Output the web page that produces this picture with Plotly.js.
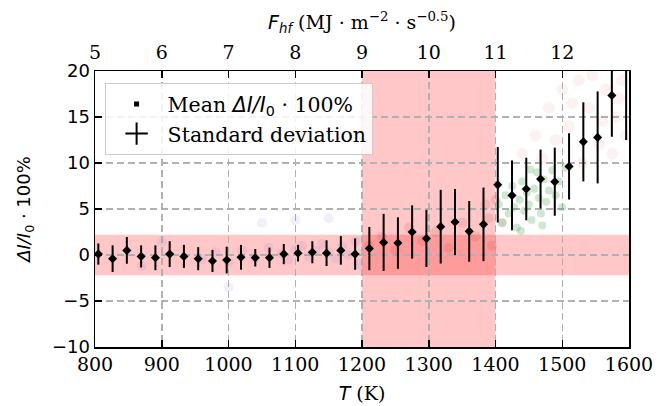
<!DOCTYPE html>
<html>
<head>
<meta charset="utf-8">
<script src="https://cdn.plot.ly/plotly-3.0.1.min.js"></script>
<style>html,body{margin:0;padding:0;background:#fff;}#chart{width:671px;height:406px;}</style>
</head>
<body>
<div id="chart"></div>
<script>
// Temperature bin centres (K)
var temperature = [805, 826.4, 847.7, 869.1, 890.5, 911.9, 933.2, 954.6, 976, 997.3,
  1018.7, 1040.1, 1061.4, 1082.8, 1104.2, 1125.6, 1146.9, 1168.3, 1189.7, 1211,
  1232.4, 1253.8, 1275.1, 1296.5, 1317.9, 1339.3, 1360.6, 1382, 1403.4, 1424.7,
  1446.1, 1467.5, 1488.8, 1510.2, 1531.6, 1553, 1574.3, 1595.7];
// Mean ΔI/I0 · 100%
var meanValues = [0.1, -0.4, 0.5, -0.15, -0.3, 0.1, -0.15, -0.4, -0.65, -0.55,
  -0.25, -0.3, -0.3, 0.1, 0.2, 0.3, 0.2, 0.5, 0.1, 0.7,
  1.37, 1.3, 2.5, 1.8, 3.08, 3.58, 2.57, 3.33, 7.64, 6.48,
  7.17, 8.26, 7.97, 9.63, 12.3, 12.78, 17.35, 21];
// Standard deviation
var stdValues = [1.15, 1.45, 1.45, 1.2, 1.35, 1.4, 1.25, 1.25, 1.2, 1.45,
  1.35, 0.95, 1.1, 1.1, 0.9, 1.2, 1.4, 1.55, 1.7, 2.35,
  3.1, 2.8, 2.9, 3.1, 4.0, 3.6, 3.3, 4.0, 4.1, 3.8,
  3.4, 3.2, 3.7, 3.6, 4.3, 5.0, 4.5, 8.5];

// Faint raw measurements in the background (read approximately)
var greenT = [1405, 1410, 1415, 1420, 1425, 1428, 1432, 1436, 1440, 1443, 1447, 1450, 1454, 1458,
  1462, 1465, 1468, 1472, 1476, 1480, 1485, 1490, 1495, 1500, 1505, 1438, 1452, 1470];
var greenV = [5.5, 3.5, 6.5, 4.5, 7.5, 5.2, 3.0, 6.0, 8.0, 4.8, 6.8, 5.5, 3.8, 7.2,
  9.0, 6.2, 4.5, 8.2, 5.8, 7.0, 9.2, 6.5, 8.0, 5.2, 9.5, 2.6, 9.3, 3.2];
var pinkT = [1440, 1460, 1480, 1500, 1510, 1525, 1540, 1555, 1565, 1580, 1590, 1530, 1470, 1545,
  1575, 1595, 1490, 1515, 1560, 1585];
var pinkV = [11, 13, 16, 18, 14, 19, 16, 12, 18, 15, 19, 10, 10.5, 19.5,
  11, 13, 12.5, 16.5, 14.5, 17];
var blueT = [960, 980, 1000, 1020, 1040, 1060, 1080, 1090, 1100, 1110, 1120, 1130, 1140, 1150,
  1160, 1170, 1180, 1190, 1195, 1050, 1150, 1000, 1100, 900, 870];
var blueV = [-0.5, 0.3, -0.8, 0.5, -0.3, 0.8, 0.2, -0.5, 0.6, 1.0, -0.2, 0.5, 1.2, 0.3,
  -0.4, 0.9, 0.0, 1.5, -1.0, 3.5, 4.0, -3.5, 3.8, 1.5, -1.2];
var redT = [1210, 1230, 1250, 1270, 1290, 1310, 1330, 1350, 1370, 1390, 1395, 1385, 1400, 1410];
var redV = [1, 2, 0.5, 3, 1.5, 2.5, 0.8, 3.5, 2, 4, 1, 5.5, 6, 3.5];

// Axes
var xRange = [800, 1600];
var xTicks = [800, 900, 1000, 1100, 1200, 1300, 1400, 1500, 1600];
var yRange = [-10, 20];
var yTicks = [-10, -5, 0, 5, 10, 15, 20];
var fRange = [5, 13];
var fTicks = [5, 6, 7, 8, 9, 10, 11, 12];
// Shaded regions
var tBand = [1200, 1400];
var dBand = [-2.2, 2.2];

var serif = "DejaVu Serif";
var sans = "DejaVu Sans";

function cloud(xs, ys, color, size) {
  return {x: xs, y: ys, type: 'scatter', mode: 'markers', showlegend: false, hoverinfo: 'skip',
    marker: {size: size, color: color, line: {width: 0}}};
}

var traces = [
  cloud(blueT, blueV, 'rgba(120,100,210,0.10)', 10),
  cloud(redT, redV, 'rgba(170,40,40,0.12)', 10),
  cloud(pinkT, pinkV, 'rgba(235,110,110,0.09)', 12),
  cloud(greenT, greenV, 'rgba(60,160,70,0.25)', 8),
  {
    x: temperature, y: meanValues, type: 'scatter', mode: 'markers',
    showlegend: false,
    marker: {symbol: 'diamond', size: 7, color: 'black'},
    error_y: {type: 'data', array: stdValues, visible: true, width: 0, thickness: 2, color: 'black'},
    hoverinfo: 'skip', cliponaxis: true
  },
  {
    x: [null], y: [null], type: 'scatter', mode: 'markers',
    name: 'Mean <span style="font-family:DejaVu Sans"><i>ΔI/I</i><sub>0</sub></span> · 100%',
    marker: {symbol: 'square', size: 5, color: 'black'},
    hoverinfo: 'skip'
  },
  {
    x: [null], y: [null], type: 'scatter', mode: 'markers',
    name: 'Standard deviation',
    marker: {symbol: 'cross-thin', size: 20, color: 'black', line: {width: 2, color: 'black'}},
    hoverinfo: 'skip'
  },
  {
    x: fRange, y: [null, null], xaxis: 'x2', type: 'scatter', mode: 'none',
    showlegend: false, hoverinfo: 'skip'
  }
];

var layout = {
  width: 671, height: 406,
  margin: {l: 95, r: 42, t: 71, b: 59, pad: 0},
  paper_bgcolor: 'white', plot_bgcolor: 'white',
  font: {family: serif, size: 19, color: 'black'},
  showlegend: true,
  legend: {
    x: 0.018, y: 0.956, xanchor: 'left', yanchor: 'top',
    bgcolor: 'rgba(255,255,255,0.85)', bordercolor: '#cccccc', borderwidth: 1,
    font: {family: serif, size: 20.5, color: 'black'},
    itemwidth: 52,
    itemsizing: 'trace'
  },
  xaxis: {
    range: xRange, tickvals: xTicks, ticktext: xTicks.map(String),
    ticks: 'inside', ticklen: 7, tickwidth: 1.5, tickcolor: 'black',
    showline: true, linecolor: 'black', linewidth: 1.5, mirror: false,
    showgrid: true, gridcolor: '#b0b0b0', griddash: '7px,4px', gridwidth: 1.5,
    zeroline: false,
    tickfont: {family: serif, size: 19, color: 'black'},
    title: {text: '<span style="font-family:DejaVu Sans"><i>T</i></span> (K)', font: {family: serif, size: 19}, standoff: 12}
  },
  xaxis2: {
    overlaying: 'x', side: 'top', anchor: 'y',
    range: fRange, tickvals: fTicks,
    ticks: 'inside', ticklen: 7, tickwidth: 1.5, tickcolor: 'black',
    showline: true, linecolor: 'black', linewidth: 1.5,
    showgrid: false, zeroline: false,
    ticklabelstandoff: 3,
    tickfont: {family: serif, size: 19, color: 'black'},
    title: {text: '<span style="font-family:DejaVu Sans"><i>F<sub>hf</sub></i></span> (MJ · m<sup>−2</sup> · s<sup>−0.5</sup>)', font: {family: serif, size: 19}, standoff: 6}
  },
  yaxis: {
    range: yRange, tickvals: yTicks, ticktext: yTicks.map(function(v){return v < 0 ? '−' + Math.abs(v) : String(v);}),
    ticks: 'inside', ticklen: 7, tickwidth: 1.5, tickcolor: 'black',
    showline: true, linecolor: 'black', linewidth: 1.5, mirror: true,
    showgrid: true, gridcolor: '#b0b0b0', griddash: '7px,4px', gridwidth: 1.5,
    zeroline: false,
    tickfont: {family: sans, size: 18, color: 'black'},
    title: {text: '<i>ΔI/I</i><sub>0</sub> · 100%', font: {family: sans, size: 18}, standoff: 16}
  },
  shapes: [
    {type: 'rect', xref: 'x', yref: 'paper', x0: tBand[0], x1: tBand[1], y0: 0, y1: 1,
     fillcolor: 'rgba(255,0,0,0.22)', line: {width: 0}, layer: 'below'},
    {type: 'rect', xref: 'paper', yref: 'y', x0: 0, x1: 1, y0: dBand[0], y1: dBand[1],
     fillcolor: 'rgba(255,0,0,0.22)', line: {width: 0}, layer: 'below'}
  ]
};

Plotly.newPlot('chart', traces, layout, {staticPlot: true, displayModeBar: false});
</script>
</body>
</html>
